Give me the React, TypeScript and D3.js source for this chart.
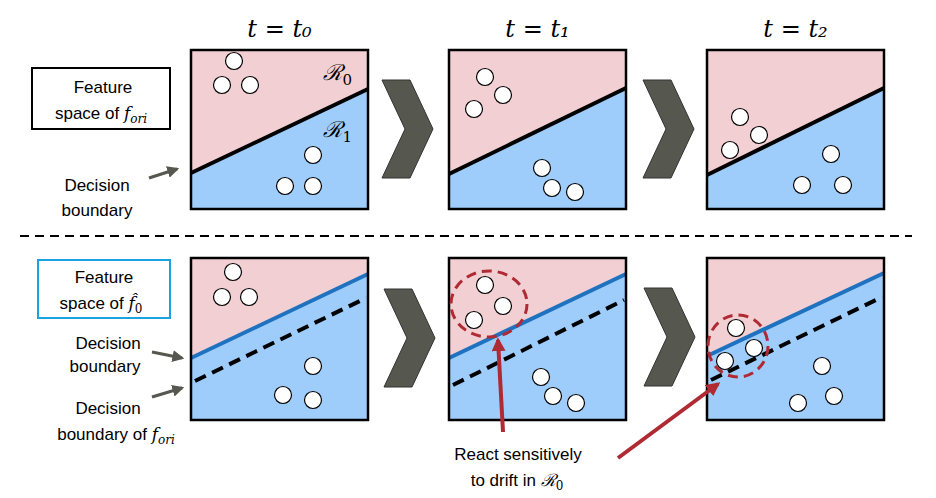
import React from "react";
import * as d3 from "d3";

const panelXs = [191, 449, 707];
const rowTops = [50, 258];
const panelW = 177;
const panelHs = [159, 162];
const timeLabels = ["t₀", "t₁", "t₂"];
// boundary lines as [yLeft, yRight] relative to panel top
const origBoundary = [[123, 39], [124, 38], [125, 38]];
const newBoundary = [[100, 16], [100, 16], [98, 15]];
const dashBoundary = [[123, 40], [127, 42], [122, 39]];
const topPoints = [
  [[43, 11], [31, 35], [59, 35], [122, 105], [94, 136], [122, 136]],
  [[36, 27], [25, 59], [54, 45], [93, 118], [103, 138], [126, 142]],
  [[33, 67], [23, 100], [52, 85], [124, 104], [95, 135], [136, 135]],
];
const botPoints = [
  [[42, 14], [31, 39], [58, 39], [122, 108], [92, 137], [122, 142]],
  [[36, 27], [54, 48], [25, 62], [92, 119], [104, 138], [127, 145]],
  [[29, 70], [18, 103], [47, 90], [115, 108], [91, 145], [127, 138]],
];

const PINK = "#f2cfd3", BLUE = "#9fcdfb", LBLUE = "#1f72bf", RED = "#b02a33", GREY = "#56574f";
const SANS = "Arial, 'Liberation Sans', sans-serif";
const SERIF = "'DejaVu Serif', serif";

function Panel({ x, y, h, b, pts, blue, dash }: any) {
  const sx = d3.scaleLinear().domain([0, panelW]).range([x, x + panelW]);
  const sy = d3.scaleLinear().domain([0, h]).range([y, y + h]);
  const main = blue ? blue : b;
  const pink = `${sx(0)},${sy(0)} ${sx(panelW)},${sy(0)} ${sx(panelW)},${sy(main[1])} ${sx(0)},${sy(main[0])}`;
  return (
    <g>
      <rect x={x} y={y} width={panelW} height={h} fill={BLUE} />
      <polygon points={pink} fill={PINK} />
      {dash && <line x1={sx(4)} y1={sy(dash[0])} x2={sx(panelW - 2)} y2={sy(dash[1])} stroke="#000" strokeWidth={4} strokeDasharray="12,7" />}
      <line x1={sx(0)} y1={sy(main[0])} x2={sx(panelW)} y2={sy(main[1])} stroke={blue ? LBLUE : "#000"} strokeWidth={4} />
      {pts.map((p: number[], i: number) => (
        <circle key={i} cx={sx(p[0])} cy={sy(p[1])} r={8.5} fill="#fff" stroke="#000" strokeWidth={1.2} />
      ))}
      <rect x={x} y={y} width={panelW} height={h} fill="none" stroke="#000" strokeWidth={2.5} />
    </g>
  );
}

const chevron = (x: number, y: number) =>
  `${x},${y} ${x + 28},${y} ${x + 51},${y + 49} ${x + 28},${y + 98} ${x},${y + 98} ${x + 23},${y + 49}`;

export default function App() {
  return (
    <svg width={936} height={498} style={{ position: "absolute", left: 0, top: 0 }}>
      <defs>
        <marker id="ag" viewBox="0 0 10 10" refX="8" refY="5" markerWidth="4" markerHeight="4" orient="auto">
          <path d="M0,0L10,5L0,10z" fill={GREY} />
        </marker>
        <marker id="ar" viewBox="0 0 10 10" refX="8" refY="5" markerWidth="3.5" markerHeight="3.5" orient="auto">
          <path d="M0,0L10,5L0,10z" fill={RED} />
        </marker>
      </defs>
      <rect width={936} height={498} fill="#fff" />
      {panelXs.map((x, i) => (
        <text key={"t" + i} x={x + panelW / 2} y={37} textAnchor="middle" fontFamily={SERIF} fontStyle="italic" fontSize={24}>
          t = {timeLabels[i]}
        </text>
      ))}
      {panelXs.map((x, i) => (
        <Panel key={"a" + i} x={x} y={rowTops[0]} h={panelHs[0]} b={origBoundary[i]} pts={topPoints[i]} />
      ))}
      {panelXs.map((x, i) => (
        <Panel key={"b" + i} x={x} y={rowTops[1]} h={panelHs[1]} b={origBoundary[i]} blue={newBoundary[i]} dash={dashBoundary[i]} pts={botPoints[i]} />
      ))}
      <text x={352} y={80} fontFamily={SERIF} fontStyle="italic" fontSize={22} textAnchor="end">ℛ<tspan fontSize={15} dy={5} fontStyle="normal">0</tspan></text>
      <text x={352} y={137} fontFamily={SERIF} fontStyle="italic" fontSize={22} textAnchor="end">ℛ<tspan fontSize={15} dy={5} fontStyle="normal">1</tspan></text>
      {[[382, 80], [643, 80], [384, 289], [644, 288]].map((c, i) => (
        <polygon key={"c" + i} points={chevron(c[0], c[1])} fill={GREY} stroke="#333" strokeWidth={1} />
      ))}
      <line x1={20} y1={236} x2={912} y2={236} stroke="#000" strokeWidth={2} strokeDasharray="9,6" />
      {/* left labels */}
      <rect x={32} y={68} width={138} height={61} fill="#fff" stroke="#000" strokeWidth={2} />
      <text x={103} y={93} textAnchor="middle" fontFamily={SANS} fontSize={17}>Feature</text>
      <text x={101} y={119} textAnchor="middle" fontFamily={SANS} fontSize={17}>space of <tspan fontFamily={SERIF} fontStyle="italic">f</tspan><tspan fontFamily={SERIF} fontStyle="italic" fontSize={12} dy={4}>ori</tspan></text>
      <text x={97} y={191} textAnchor="middle" fontFamily={SANS} fontSize={17}>Decision</text>
      <text x={97} y={216} textAnchor="middle" fontFamily={SANS} fontSize={17}>boundary</text>
      <line x1={149} y1={178} x2={177} y2={169} stroke={GREY} strokeWidth={3} markerEnd="url(#ag)" />
      <rect x={38} y={260} width={132} height={58} fill="#fff" stroke="#1aa3e0" strokeWidth={2} />
      <text x={104} y={283} textAnchor="middle" fontFamily={SANS} fontSize={17}>Feature</text>
      <text x={101} y={309} textAnchor="middle" fontFamily={SANS} fontSize={17}>space of <tspan fontFamily={SERIF} fontStyle="italic">f̂</tspan><tspan fontFamily={SERIF} fontSize={12} dy={4}>0</tspan></text>
      <text x={108} y={349} textAnchor="middle" fontFamily={SANS} fontSize={17}>Decision</text>
      <text x={105} y={372} textAnchor="middle" fontFamily={SANS} fontSize={17}>boundary</text>
      <line x1={152} y1={352} x2={182} y2={358} stroke={GREY} strokeWidth={3} markerEnd="url(#ag)" />
      <text x={108} y={414} textAnchor="middle" fontFamily={SANS} fontSize={17}>Decision</text>
      <text x={116} y={440} textAnchor="middle" fontFamily={SANS} fontSize={17}>boundary of <tspan fontFamily={SERIF} fontStyle="italic">f</tspan><tspan fontFamily={SERIF} fontStyle="italic" fontSize={12} dy={4}>ori</tspan></text>
      <line x1={152} y1={397} x2={182} y2={388} stroke={GREY} strokeWidth={3} markerEnd="url(#ag)" />
      {/* red highlights */}
      <ellipse cx={489} cy={304} rx={38} ry={33} fill="none" stroke={RED} strokeWidth={3} strokeDasharray="10,6" />
      <ellipse cx={738} cy={346} rx={30} ry={31} fill="none" stroke={RED} strokeWidth={3} strokeDasharray="10,6" />
      <line x1={503} y1={432} x2={498} y2={340} stroke={RED} strokeWidth={4} markerEnd="url(#ar)" />
      <line x1={618} y1={458} x2={718} y2={384} stroke={RED} strokeWidth={4} markerEnd="url(#ar)" />
      <text x={518} y={460} textAnchor="middle" fontFamily={SANS} fontSize={17}>React sensitively</text>
      <text x={517} y={486} textAnchor="middle" fontFamily={SANS} fontSize={17}>to drift in <tspan fontFamily={SERIF} fontStyle="italic">ℛ</tspan><tspan fontFamily={SERIF} fontSize={12} dy={4}>0</tspan></text>
    </svg>
  );
}
